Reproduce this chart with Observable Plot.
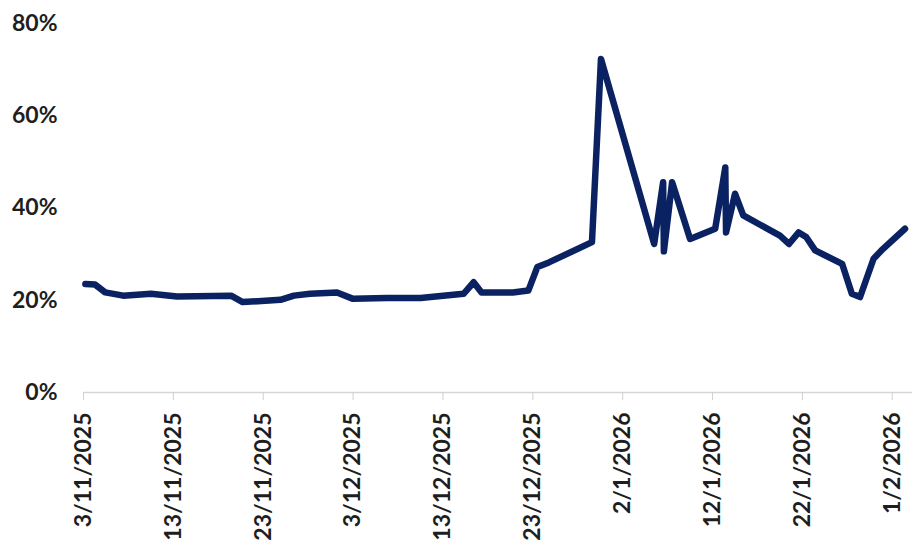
<!DOCTYPE html>
<html>
<head>
<meta charset="utf-8">
<script src="https://cdn.jsdelivr.net/npm/d3@7"></script>
<script src="https://cdn.jsdelivr.net/npm/@observablehq/plot@0.6"></script>
<style>
  html, body { margin: 0; padding: 0; background: #fff; }
</style>
</head>
<body>
<div id="chart"></div>
<script>
// Observation timestamps (UTC, "YYYY-MM-DD HH")
const dates = [
  "2025-11-03 05", "2025-11-04 07", "2025-11-05 10", "2025-11-07 10", "2025-11-10 12",
  "2025-11-13 10", "2025-11-19 10", "2025-11-20 17", "2025-11-24 22", "2025-11-26 10",
  "2025-11-28 05", "2025-12-01 05", "2025-12-03 00", "2025-12-06 19", "2025-12-10 12",
  "2025-12-15 07", "2025-12-16 10", "2025-12-17 07", "2025-12-20 19", "2025-12-22 12",
  "2025-12-23 12", "2025-12-24 19", "2025-12-29 14", "2025-12-30 14", "2026-01-05 12",
  "2026-01-06 12", "2026-01-06 14", "2026-01-07 12", "2026-01-09 12", "2026-01-12 07",
  "2026-01-13 10", "2026-01-13 12", "2026-01-14 12", "2026-01-15 10", "2026-01-19 12",
  "2026-01-20 12", "2026-01-21 14", "2026-01-22 10", "2026-01-23 10", "2026-01-26 10",
  "2026-01-27 12", "2026-01-28 10", "2026-01-29 22", "2026-01-30 19", "2026-02-02 10"
];
// Values in percent
const values = [
  23.5, 23.4, 21.7, 21.0, 21.4,
  20.8, 21.0, 19.6, 20.1, 21.0,
  21.4, 21.7, 20.3, 20.5, 20.5,
  21.4, 23.9, 21.7, 21.7, 22.1,
  27.2, 28.2, 32.6, 72.3, 32.2,
  45.6, 30.6, 45.6, 33.3, 35.5,
  48.8, 34.7, 43.1, 38.4, 34.0,
  32.2, 34.7, 33.7, 30.8, 27.9,
  21.4, 20.7, 29.0, 30.8, 35.5
];
const xTickDates = [
  "2025-11-03 00", "2025-11-13 00", "2025-11-23 00", "2025-12-03 00", "2025-12-13 00",
  "2025-12-23 00", "2026-01-02 00", "2026-01-12 00", "2026-01-22 00", "2026-02-01 00"
];
const xDomain = ["2025-11-03 00", "2026-02-03 06"];
const yTicks = [0, 20, 40, 60, 80];

const parse = d3.utcParse("%Y-%m-%d %H");
const fmt = d3.utcFormat("%-d/%-m/%Y");
const data = dates.map((d, i) => ({date: parse(d), value: values[i]}));

const chart = Plot.plot({
  width: 912,
  height: 543,
  marginLeft: 83,
  marginRight: 0,
  marginTop: 23,
  marginBottom: 151,
  style: {fontFamily: "Lato, 'Open Sans', sans-serif", fontSize: "23px", fontWeight: "700", color: "#1e1e1e", background: "#fff"},
  x: {type: "utc", domain: xDomain.map(parse)},
  y: {domain: [0, 80]},
  marks: [
    Plot.ruleY([0], {stroke: "#d6d6d6", strokeWidth: 1.5}),
    Plot.axisX({
      ticks: xTickDates.map(parse),
      tickFormat: fmt,
      tickRotate: -90,
      tickSize: 8,
      tickPadding: 12,
      stroke: "#d0d0d0",
      fill: "#1e1e1e",
      label: null
    }),
    Plot.axisY({
      ticks: yTicks,
      tickFormat: d => d + "%",
      tickSize: 0,
      tickPadding: 26,
      fill: "#1e1e1e",
      label: null
    }),
    Plot.line(data, {
      x: "date",
      y: "value",
      stroke: "#0b2262",
      strokeWidth: 6.5,
      strokeLinejoin: "round",
      strokeLinecap: "round"
    })
  ]
});
document.getElementById("chart").appendChild(chart);
</script>
</body>
</html>
